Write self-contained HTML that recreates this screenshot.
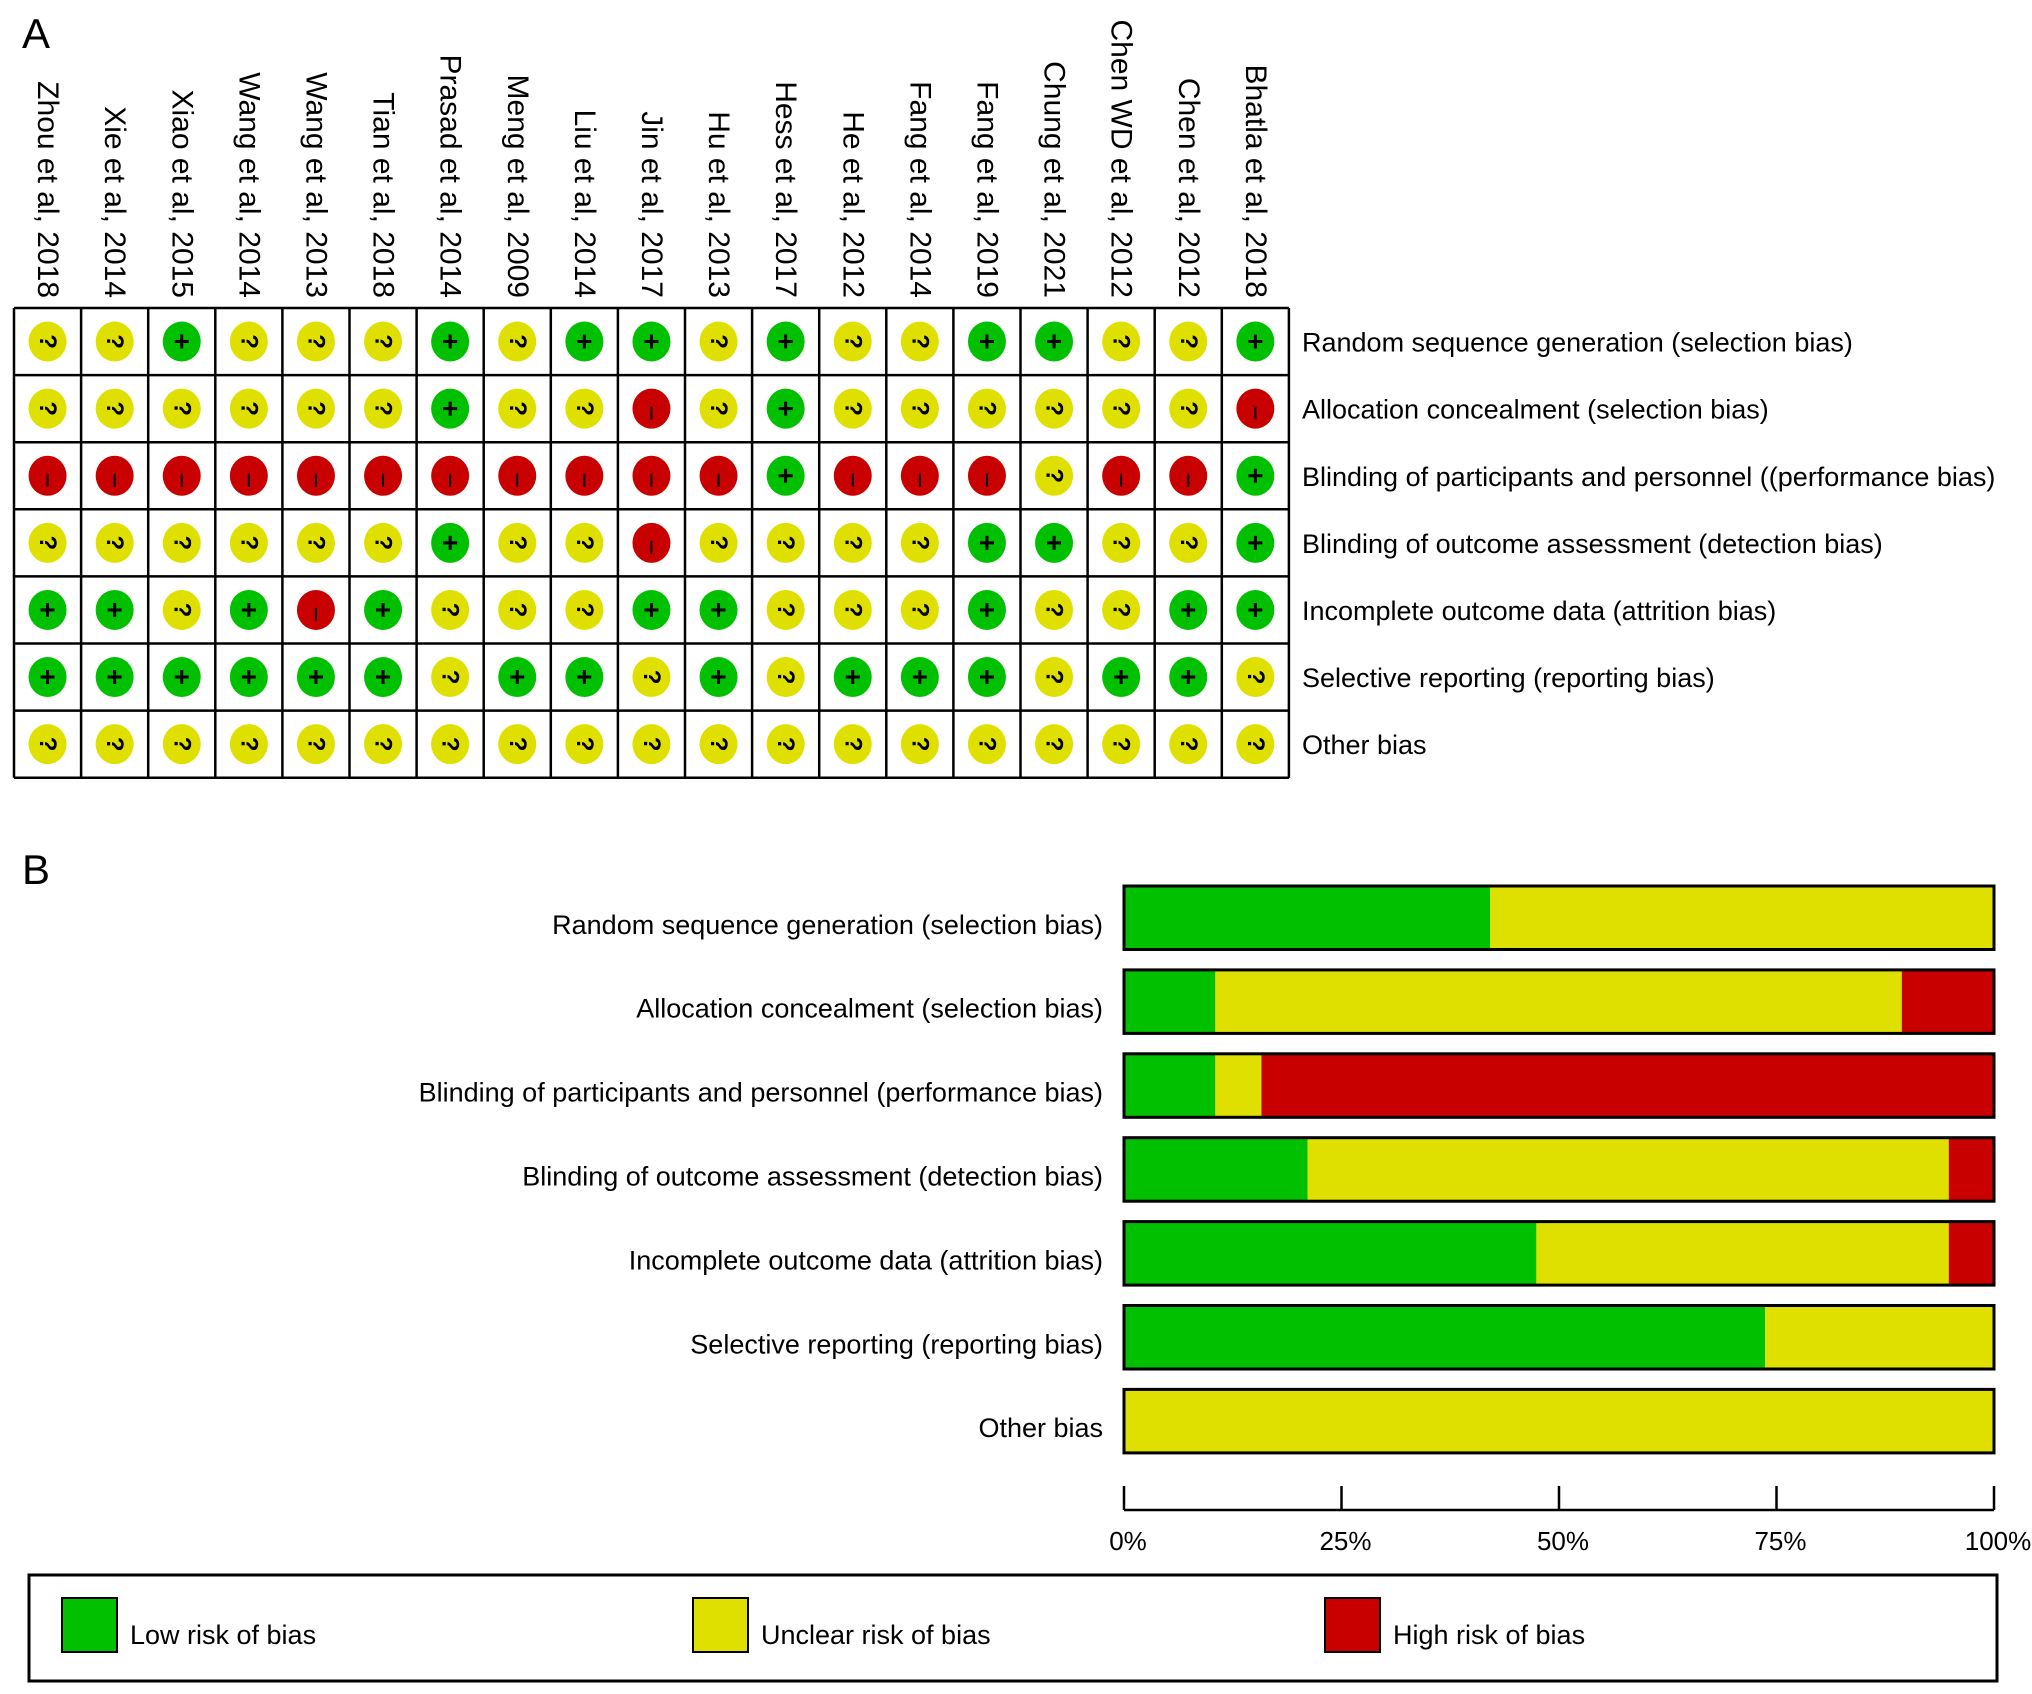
<!DOCTYPE html>
<html><head><meta charset="utf-8"><style>
html,body{margin:0;padding:0;background:#fff;}
svg{display:block;font-family:"Liberation Sans",Arial,sans-serif;}
</style></head><body>
<svg id="chart" width="2032" height="1694" viewBox="0 0 2032 1694" xmlns="http://www.w3.org/2000/svg">
<text x="22" y="48" font-size="42">A</text>
<text x="22" y="884" font-size="42">B</text>
<g id="gridA"></g>
<g id="barsB"></g>
<g id="legend"></g>
</svg>
<script>
const studies = ["Zhou et al, 2018","Xie et al, 2014","Xiao et al, 2015","Wang et al, 2014","Wang et al, 2013","Tian et al, 2018","Prasad et al, 2014","Meng et al, 2009","Liu et al, 2014","Jin et al, 2017","Hu et al, 2013","Hess et al, 2017","He et al, 2012","Fang et al, 2014","Fang et al, 2019","Chung et al, 2021","Chen WD et al, 2012","Chen et al, 2012","Bhatla et al, 2018"];
const domainsA = ["Random sequence generation (selection bias)","Allocation concealment (selection bias)","Blinding of participants and personnel ((performance bias)","Blinding of outcome assessment (detection bias)","Incomplete outcome data (attrition bias)","Selective reporting (reporting bias)","Other bias"];
const judgements = [
 "UULUUULULLULUULLUUL",
 "UUUUUULUUHULUUUUUUH",
 "HHHHHHHHHHHLHHHUHHL",
 "UUUUUULUUHUUUULLUUL",
 "LLULHLUUULLUUULUULL",
 "LLLLLLULLULULLLULLU",
 "UUUUUUUUUUUUUUUUUUU"
];
const domainsB = ["Random sequence generation (selection bias)","Allocation concealment (selection bias)","Blinding of participants and personnel (performance bias)","Blinding of outcome assessment (detection bias)","Incomplete outcome data (attrition bias)","Selective reporting (reporting bias)","Other bias"];
const lowPct = [42.1,10.5,10.5,21.1,47.4,73.7,0];
const unclearPct = [57.9,78.9,5.3,73.7,47.4,26.3,100];
const highPct = [0,10.5,84.2,5.3,5.3,0,0];
const tickLabels = ["0%","25%","50%","75%","100%"];
const tickValues = [0,25,50,75,100];
const legendLabels = ["Low risk of bias","Unclear risk of bias","High risk of bias"];

const NS="http://www.w3.org/2000/svg";
const COL={L:"#00c000",U:"#e0e000",H:"#c80000"};
function mk(tag,attrs,parent,text){const e=document.createElementNS(NS,tag);for(const k in attrs)e.setAttribute(k,attrs[k]);if(text!==undefined)e.textContent=text;parent.appendChild(e);return e;}

// Panel A
const gA=document.getElementById('gridA');
const gx0=14,gy0=308,cw=67.1,ch=67.1;
const colX=i=>gx0+cw*(i+0.5), rowY=j=>gy0+ch*(j+0.5);
studies.forEach((s,i)=>{
  const t=mk('text',{x:colX(i),y:298,'font-size':30,'text-anchor':'end','dominant-baseline':'central',transform:`rotate(90 ${colX(i)} 298)`},gA,s);
  
  
});
domainsA.forEach((d,j)=>{
  const t=mk('text',{x:1302,y:rowY(j)+10,'font-size':27},gA,d);
  
  
});
judgements.forEach((row,j)=>{
  row.split('').forEach((v,i)=>{
    const cx=colX(i),cy=rowY(j);
    const g=mk('g',{},gA);
    
    
    mk('ellipse',{cx:cx,cy:cy,rx:19,ry:20,fill:COL[v]},g);
    if(v==='L'){mk('path',{d:`M${cx-7} ${cy}H${cx+7}M${cx} ${cy-7}V${cy+7}`,stroke:'#000','stroke-width':3},g);}
    else if(v==='H'){mk('path',{d:`M${cx} ${cy-2}V${cy+11}`,stroke:'#000','stroke-width':2},g);}
    else{mk('text',{x:cx,y:cy,'font-size':24,'font-weight':'bold','text-anchor':'middle','dominant-baseline':'central',transform:`rotate(90 ${cx} ${cy})`},g,'?');}
  });
});
for(let i=0;i<=studies.length;i++){mk('line',{x1:gx0+cw*i,y1:gy0,x2:gx0+cw*i,y2:gy0+ch*7,stroke:'#000','stroke-width':2.5},gA);}
for(let j=0;j<=7;j++){mk('line',{x1:gx0,y1:gy0+ch*j,x2:gx0+cw*19,y2:gy0+ch*j,stroke:'#000','stroke-width':2.5},gA);}

// Panel B
const gB=document.getElementById('barsB');
const bx0=1124,bx1=1994;
const xs=v=>bx0+(bx1-bx0)*v/100;
const barY=j=>886+83.9*j, barH=63.5;
domainsB.forEach((d,j)=>{
  const t=mk('text',{x:1103,y:barY(j)+barH/2+16,'font-size':27,'text-anchor':'end'},gB,d);
  
  
  const segs=[[lowPct[j],COL.L],[unclearPct[j],COL.U],[highPct[j],COL.H]];
  let acc=0;
  segs.forEach(([v,c])=>{
    if(v>0){const r=mk('rect',{x:xs(acc),y:barY(j),width:xs(acc+v)-xs(acc),height:barH,fill:c},gB);
      
      }
    acc+=v;
  });
  mk('rect',{x:bx0,y:barY(j),width:bx1-bx0,height:barH,fill:'none',stroke:'#000','stroke-width':3},gB);
});
const axis=mk('g',{},gB);


mk('line',{x1:xs(0),y1:1510,x2:xs(100),y2:1510,stroke:'#000','stroke-width':2.5},axis);
tickValues.forEach((v,i)=>{
  mk('line',{x1:xs(v),y1:1486,x2:xs(v),y2:1510,stroke:'#000','stroke-width':2.5},axis);
  const t=mk('text',{x:xs(v)+4,y:1550,'font-size':26,'text-anchor':'middle'},axis,tickLabels[i]);
  
  
});

// Legend
const gL=document.getElementById('legend');
mk('rect',{x:29,y:1575,width:1968,height:106,fill:'none',stroke:'#000','stroke-width':3},gL);
const legX=[62,693,1325],legC=[COL.L,COL.U,COL.H];
legendLabels.forEach((l,i)=>{
  const e=mk('g',{},gL);
  
  
  mk('rect',{x:legX[i],y:1598,width:55,height:54,fill:legC[i],stroke:'#000','stroke-width':2},e);
  mk('text',{x:legX[i]+68,y:1644,'font-size':27},e,l);
});
</script>
</body></html>
